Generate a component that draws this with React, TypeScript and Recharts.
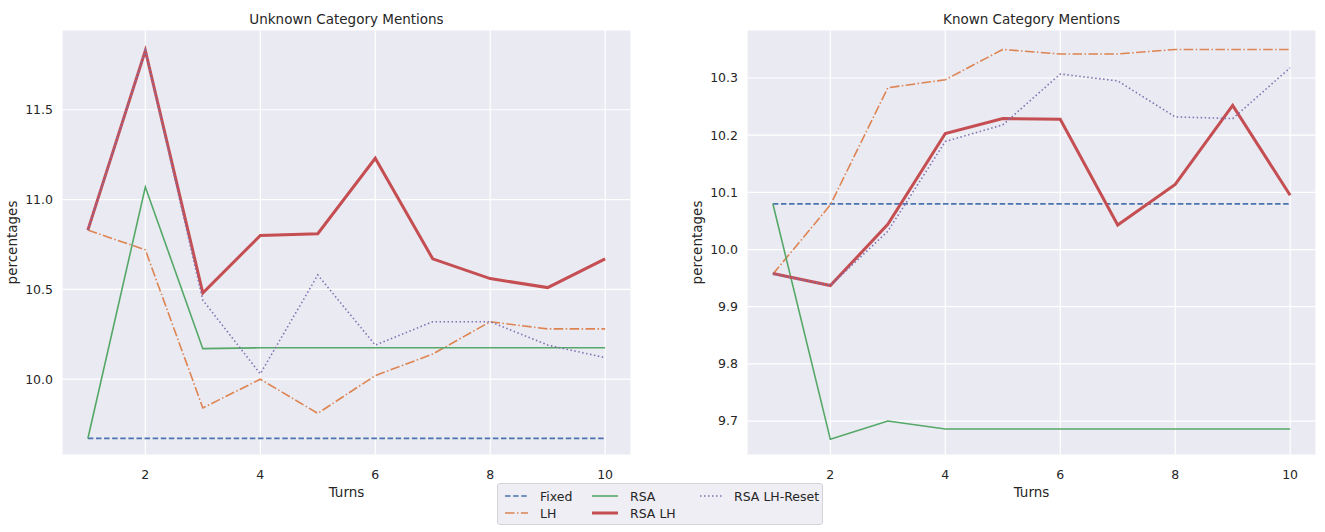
import { LineChart, Line, XAxis, YAxis, CartesianGrid, Label } from "recharts";

const TURNS = [1, 2, 3, 4, 5, 6, 7, 8, 9, 10];
const X_TICKS = [2, 4, 6, 8, 10];

// Unknown Category Mentions
const UNK_FIXED = [9.67, 9.67, 9.67, 9.67, 9.67, 9.67, 9.67, 9.67, 9.67, 9.67];
const UNK_LH = [10.83, 10.72, 9.84, 10.0, 9.81, 10.02, 10.14, 10.32, 10.28, 10.28];
const UNK_RSA = [9.67, 11.07, 10.17, 10.175, 10.175, 10.175, 10.175, 10.175, 10.175, 10.175];
const UNK_RSA_LH = [10.83, 11.83, 10.48, 10.8, 10.81, 11.23, 10.67, 10.56, 10.51, 10.67];
const UNK_RSA_RESET = [10.83, 11.83, 10.44, 10.03, 10.58, 10.19, 10.32, 10.32, 10.19, 10.12];
const UNK_Y_TICKS = [10.0, 10.5, 11.0, 11.5];

// Known Category Mentions
const KN_FIXED = [10.08, 10.08, 10.08, 10.08, 10.08, 10.08, 10.08, 10.08, 10.08, 10.08];
const KN_LH = [9.957, 10.078, 10.283, 10.297, 10.35, 10.342, 10.342, 10.35, 10.35, 10.35];
const KN_RSA = [10.08, 9.668, 9.7, 9.686, 9.686, 9.686, 9.686, 9.686, 9.686, 9.686];
const KN_RSA_LH = [9.958, 9.937, 10.044, 10.203, 10.229, 10.228, 10.043, 10.114, 10.252, 10.095];
const KN_RSA_RESET = [9.957, 9.937, 10.032, 10.189, 10.218, 10.307, 10.295, 10.232, 10.229, 10.318];
const KN_Y_TICKS = [9.7, 9.8, 9.9, 10.0, 10.1, 10.2, 10.3];

const SERIES = [
  { key: "fixed", name: "Fixed", color: "#4C72B0", dash: "5.5 2.6", width: 1.7 },
  { key: "lh", name: "LH", color: "#DD8452", dash: "9.6 2.4 1.5 2.4", width: 1.6 },
  { key: "rsa", name: "RSA", color: "#55A868", dash: undefined, width: 1.6 },
  { key: "rsaLh", name: "RSA LH", color: "#C44E52", dash: undefined, width: 3 },
  { key: "rsaReset", name: "RSA LH-Reset", color: "#8172B3", dash: "1.5 2.5", width: 1.6 },
];

const FONT = "'DejaVu Sans', sans-serif";
const TEXT = "#262626";
const BG = "#EAEAF2";

function buildRows(cols: Record<string, number[]>) {
  return TURNS.map((t, i) => {
    const row: Record<string, number> = { turn: t };
    for (const k of Object.keys(cols)) row[k] = cols[k][i];
    return row;
  });
}

const UNKNOWN_DATA = buildRows({
  fixed: UNK_FIXED,
  lh: UNK_LH,
  rsa: UNK_RSA,
  rsaLh: UNK_RSA_LH,
  rsaReset: UNK_RSA_RESET,
});

const KNOWN_DATA = buildRows({
  fixed: KN_FIXED,
  lh: KN_LH,
  rsa: KN_RSA,
  rsaLh: KN_RSA_LH,
  rsaReset: KN_RSA_RESET,
});

function Panel({
  title,
  data,
  domain,
  ticks,
  left,
  width,
  marginRight,
}: {
  title: string;
  data: Record<string, number>[];
  domain: [number, number];
  ticks: number[];
  left: number;
  width: number;
  marginRight: number;
}) {
  const plotLeft = 62;
  const plotW = width - plotLeft - marginRight;
  return (
    <div style={{ position: "absolute", left, top: 0, width, height: 532 }}>
      <div
        style={{
          position: "absolute",
          left: plotLeft,
          width: plotW,
          top: 11,
          textAlign: "center",
          fontFamily: FONT,
          fontSize: 13.5,
          color: TEXT,
        }}
      >
        {title}
      </div>
      <LineChart
        width={width}
        height={532}
        data={data}
        margin={{ top: 30, right: marginRight, bottom: 32, left: 0 }}
      >
        <CartesianGrid stroke="#ffffff" strokeWidth={1.2} fill={BG} />
        <XAxis
          dataKey="turn"
          type="number"
          domain={[0.55, 10.45]}
          ticks={X_TICKS}
          allowDataOverflow
          axisLine={false}
          tickLine={false}
          tickSize={6}
          tickMargin={9}
          height={45}
          tick={{ fill: TEXT, fontSize: 12.5, fontFamily: FONT }}
        >
          <Label
            value="Turns"
            position="insideBottom"
            offset={3}
            style={{ fill: TEXT, fontSize: 13.5, fontFamily: FONT }}
          />
        </XAxis>
        <YAxis
          type="number"
          domain={domain}
          ticks={ticks}
          allowDataOverflow
          axisLine={false}
          tickLine={false}
          tickSize={6}
          tickMargin={3}
          width={plotLeft}
          tickFormatter={(v: number) => v.toFixed(1)}
          tick={{ fill: TEXT, fontSize: 12.5, fontFamily: FONT }}
        >
          <Label
            content={(props: any) => {
              const vb = props.viewBox || { x: 0, y: 30, height: 425 };
              const cx = 12;
              const cy = vb.y + vb.height / 2;
              return (
                <text
                  x={cx}
                  y={cy}
                  transform={`rotate(-90 ${cx} ${cy})`}
                  textAnchor="middle"
                  dominantBaseline="central"
                  fill={TEXT}
                  fontSize={13.5}
                  fontFamily={FONT}
                >
                  percentages
                </text>
              );
            }}
          />
        </YAxis>
        {SERIES.map((s) => (
          <Line
            key={s.key}
            dataKey={s.key}
            name={s.name}
            type="linear"
            stroke={s.color}
            strokeWidth={s.width}
            strokeDasharray={s.dash}
            dot={false}
            activeDot={false}
            isAnimationActive={false}
          />
        ))}
      </LineChart>
    </div>
  );
}

function LegendBox() {
  // matplotlib ncol=3 fills column by column
  const cols = [
    [SERIES[0], SERIES[1]],
    [SERIES[2], SERIES[3]],
    [SERIES[4]],
  ];
  const colX = [8, 95, 203];
  const handleW = [23, 26, 22];
  return (
    <div
      style={{
        position: "absolute",
        left: 497,
        top: 483,
        width: 326,
        height: 42,
        background: "#EEEEF4",
        border: "1px solid #d4d4d8",
        borderRadius: 3,
        boxSizing: "border-box",
      }}
    >
      <svg width={326} height={42} style={{ position: "absolute", left: -1, top: -1 }}>
        {cols.map((col, ci) =>
          col.map((s, ri) => {
            const y = 13 + ri * 17;
            const x = colX[ci];
            return (
              <g key={s.key}>
                <line
                  x1={x}
                  x2={x + handleW[ci]}
                  y1={y}
                  y2={y}
                  stroke={s.color}
                  strokeWidth={s.width}
                  strokeDasharray={s.dash}
                />
                <text
                  x={x + handleW[ci] + 12}
                  y={y}
                  dominantBaseline="central"
                  fill={TEXT}
                  fontSize={12.5}
                  fontFamily={FONT}
                >
                  {s.name}
                </text>
              </g>
            );
          })
        )}
      </svg>
    </div>
  );
}

export default function App() {
  return (
    <div
      style={{
        position: "fixed",
        left: 0,
        top: 0,
        width: 1325,
        height: 532,
        background: "#ffffff",
        overflow: "hidden",
      }}
    >
      <Panel
        title="Unknown Category Mentions"
        data={UNKNOWN_DATA}
        domain={[9.578, 11.944]}
        ticks={UNK_Y_TICKS}
        left={0}
        width={650}
        marginRight={19}
      />
      <Panel
        title="Known Category Mentions"
        data={KNOWN_DATA}
        domain={[9.6406, 10.384]}
        ticks={KN_Y_TICKS}
        left={685}
        width={640}
        marginRight={9}
      />
      <LegendBox />
    </div>
  );
}
